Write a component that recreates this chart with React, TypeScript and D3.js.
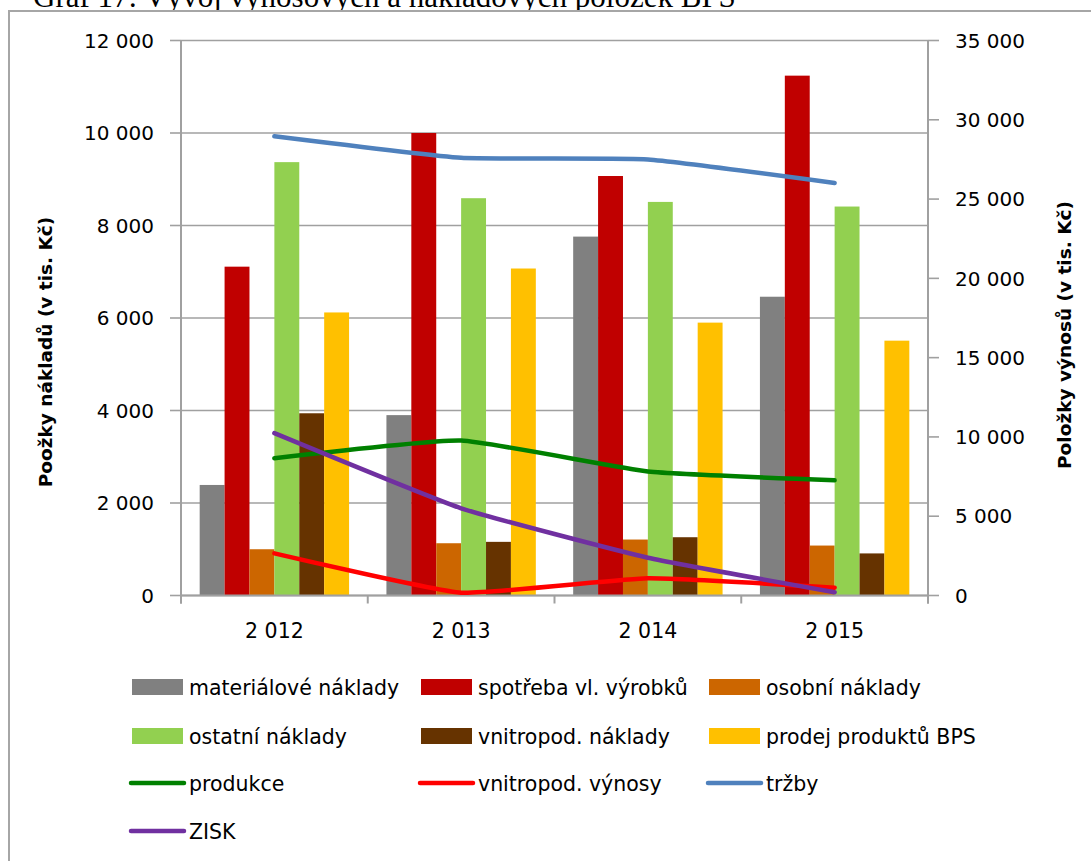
import React from 'react';
import * as d3 from 'd3';

const years = ['2 012', '2 013', '2 014', '2 015'];

// bar series (left axis, v tis. Kč)
const materialoveNaklady = [2390, 3900, 7760, 6460];
const spotrebaVyrobku = [7110, 10000, 9070, 11240];
const osobniNaklady = [1000, 1130, 1210, 1080];
const ostatniNaklady = [9370, 8590, 8510, 8410];
const vnitropodNaklady = [3940, 1160, 1260, 910];
const prodejProduktu = [6120, 7070, 5900, 5510];

// line series (right axis, v tis. Kč)
const produkce = [8660, 9770, 7820, 7270];
const vnitropodVynosy = [2660, 180, 1080, 490];
const trzby = [28960, 27600, 27500, 26020];
const zisk = [10240, 5500, 2380, 210];

const leftTicks = [0, 2000, 4000, 6000, 8000, 10000, 12000];
const rightTicks = [0, 5000, 10000, 15000, 20000, 25000, 30000, 35000];

const bars = [
    { name: 'materiálové náklady', values: materialoveNaklady, color: '#808080' },
    { name: 'spotřeba vl. výrobků', values: spotrebaVyrobku, color: '#c00000' },
    { name: 'osobní náklady', values: osobniNaklady, color: '#cc6600' },
    { name: 'ostatní náklady', values: ostatniNaklady, color: '#92d050' },
    { name: 'vnitropod. náklady', values: vnitropodNaklady, color: '#663300' },
    { name: 'prodej produktů BPS', values: prodejProduktu, color: '#ffc000' }
];

const lines = [
    { name: 'produkce', values: produkce, color: '#008000' },
    { name: 'vnitropod. výnosy', values: vnitropodVynosy, color: '#ff0000' },
    { name: 'tržby', values: trzby, color: '#4f81bd' },
    { name: 'ZISK', values: zisk, color: '#7030a0' }
];

const W = 1091, H = 861;
const plot = { left: 181, right: 928, top: 40.5, bottom: 595.5 };
const font = '"DejaVu Sans", sans-serif';
const gridColor = '#a0a0a0';

const fmt = d3.formatLocale({ decimal: ',', thousands: ' ', grouping: [3], currency: ['', ' Kč'] }).format(',d');

const App = () => {
    const x0 = d3.scaleBand<string>().domain(years).range([plot.left, plot.right]).paddingInner(0).paddingOuter(0);
    const x1 = d3.scaleBand<string>().domain(bars.map(d => d.name)).range([0, x0.bandwidth()]).paddingInner(0).paddingOuter(0.75);
    const yL = d3.scaleLinear().domain([0, 12000]).range([plot.bottom, plot.top]);
    const yR = d3.scaleLinear().domain([0, 35000]).range([plot.bottom, plot.top]);

    // excel-like mild smoothing
    const line = d3.line<number>()
        .x((d, i) => (x0(years[i]) as number) + x0.bandwidth() / 2)
        .y(d => yR(d))
        .curve(d3.curveCardinal.tension(0.6));

    const legendItems = [
        ...bars.map(b => ({ name: b.name, color: b.color, kind: 'bar' })),
        ...lines.map(l => ({ name: l.name, color: l.color, kind: 'line' }))
    ];
    const colX = [132, 421, 709];
    const rowY = [687, 736, 783, 831];

    const boundaries = [...years.map(y => x0(y) as number), plot.right];

    return (
        <div style={{ position: 'absolute', left: 0, top: 0 }}>
            <svg width={W} height={H} style={{ display: 'block', background: '#fff' }}>
                <text x={33} y={7} fontFamily='"Liberation Serif", serif' fontSize={31} fill="#000">
                    Graf 17: Vývoj výnosových a nákladových položek BPS
                </text>
                <rect x={9} y={11} width={W} height={H} fill="#fff" stroke="#a6a6a6" strokeWidth={2} />

                {/* gridlines */}
                {leftTicks.map(t => (
                    <line key={'g' + t} x1={plot.left} x2={plot.right} y1={yL(t)} y2={yL(t)} stroke={gridColor} strokeWidth={1.6} />
                ))}

                {/* bars */}
                {bars.map(s => s.values.map((v, i) => (
                    <rect key={s.name + i} fill={s.color}
                        x={(x0(years[i]) as number) + (x1(s.name) as number)}
                        y={yL(v)} width={x1.bandwidth()} height={plot.bottom - yL(v)} />
                )))}

                {/* axes */}
                <line x1={plot.left} x2={plot.left} y1={plot.top} y2={plot.bottom + 8} stroke={gridColor} strokeWidth={2} />
                <line x1={plot.right} x2={plot.right} y1={plot.top} y2={plot.bottom + 8} stroke={gridColor} strokeWidth={2} />
                <line x1={plot.left} x2={plot.right} y1={plot.bottom} y2={plot.bottom} stroke={gridColor} strokeWidth={2} />
                {leftTicks.map(t => (
                    <g key={'l' + t}>
                        <line x1={plot.left - 11} x2={plot.left} y1={yL(t)} y2={yL(t)} stroke={gridColor} strokeWidth={1.6} />
                        <text x={154} y={yL(t)} dy="0.36em" textAnchor="end" fontFamily={font} fontSize={20} fill="#000">{fmt(t)}</text>
                    </g>
                ))}
                {rightTicks.map(t => (
                    <g key={'r' + t}>
                        <line x1={plot.right} x2={plot.right + 11} y1={yR(t)} y2={yR(t)} stroke={gridColor} strokeWidth={1.6} />
                        <text x={955} y={yR(t)} dy="0.36em" textAnchor="start" fontFamily={font} fontSize={20} fill="#000">{fmt(t)}</text>
                    </g>
                ))}
                {boundaries.map((bx, i) => (
                    <line key={'b' + i} x1={bx} x2={bx} y1={plot.bottom} y2={plot.bottom + 8} stroke={gridColor} strokeWidth={2} />
                ))}
                {years.map(y => (
                    <text key={'y' + y} x={(x0(y) as number) + x0.bandwidth() / 2} y={638} textAnchor="middle" fontFamily={font} fontSize={20.5} fill="#000">{y}</text>
                ))}

                {/* line series */}
                {lines.map(l => (
                    <path key={l.name} d={line(l.values) as string} fill="none" stroke={l.color} strokeWidth={4.5} strokeLinecap="round" strokeLinejoin="round" />
                ))}

                {/* axis titles */}
                <text transform="translate(52,352) rotate(-90)" textAnchor="middle" fontFamily={font} fontWeight="bold" fontSize={18.5} fill="#000">
                    {'Poožky nákladů  (v tis. Kč)'}
                </text>
                <text transform="translate(1071,335) rotate(-90)" textAnchor="middle" fontFamily={font} fontWeight="bold" fontSize={18.5} fill="#000">
                    Položky výnosů (v tis. Kč)
                </text>

                {/* legend */}
                {legendItems.map((it, i) => {
                    const cx = colX[i % 3];
                    const cy = rowY[Math.floor(i / 3)];
                    return (
                        <g key={'lg' + i}>
                            {it.kind === 'bar'
                                ? <rect x={cx} y={cy - 8} width={51} height={16} fill={it.color} />
                                : <line x1={cx - 1} x2={cx + 52} y1={cy} y2={cy} stroke={it.color} strokeWidth={4.5} strokeLinecap="round" />}
                            <text x={cx + 57} y={cy + 8} fontFamily={font} fontSize={20.5} fill="#000">{it.name}</text>
                        </g>
                    );
                })}
            </svg>
        </div>
    );
};

export default App;
